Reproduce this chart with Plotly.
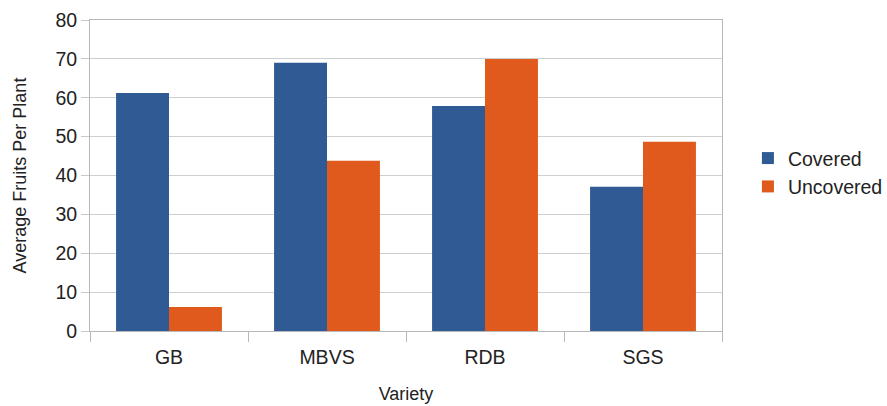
import plotly.graph_objects as go

categories = ["GB", "MBVS", "RDB", "SGS"]
covered = [61.2, 69.0, 57.9, 37.1]
uncovered = [6.2, 43.8, 70.0, 48.7]
y_ticks = [0, 10, 20, 30, 40, 50, 60, 70, 80]

FONT = "Liberation Sans, Arial, sans-serif"

fig = go.Figure()
fig.add_trace(go.Bar(x=categories, y=covered, name="Covered", legendgroup="c",
                     marker=dict(color="#2F5A94", line=dict(width=0))))
fig.add_trace(go.Bar(x=categories, y=uncovered, name="Uncovered", legendgroup="u",
                     marker=dict(color="#E05A1E", line=dict(width=0))))

fig.update_layout(
    width=887, height=406,
    margin=dict(l=90, r=165, t=20, b=75, autoexpand=False),
    paper_bgcolor="white", plot_bgcolor="white",
    barmode="group", bargap=0.33, bargroupgap=0,
    font=dict(family=FONT, color="#222222", size=19),
    legend=dict(x=1.041, y=0.51, xanchor="left", yanchor="middle",
                font=dict(size=19.5, family=FONT), itemwidth=30,
                traceorder="grouped", tracegroupgap=0),
    xaxis=dict(
        title=dict(text="Variety", font=dict(size=18), standoff=19),
        showline=True, linecolor="#b8b8b8", linewidth=1, mirror=True,
        ticks="outside", tickson="boundaries", ticklen=10, tickcolor="#b8b8b8",
        tickfont=dict(size=19.5), showgrid=False, automargin=False,
        ticklabelstandoff=9,
    ),
    yaxis=dict(
        title=dict(text="Average Fruits Per Plant", font=dict(size=18), standoff=24),
        range=[0, 80], tickvals=y_ticks, ticks="outside", ticklen=8,
        tickcolor="#c8c8c8", gridcolor="#cfcfcf", gridwidth=1,
        showline=True, linecolor="#b8b8b8", linewidth=1, mirror=True,
        tickfont=dict(size=19.5), zeroline=False, automargin=False,
    ),
)

fig.write_html("out.html", config={"displayModeBar": False},
               post_script="document.body.style.margin='0';")
